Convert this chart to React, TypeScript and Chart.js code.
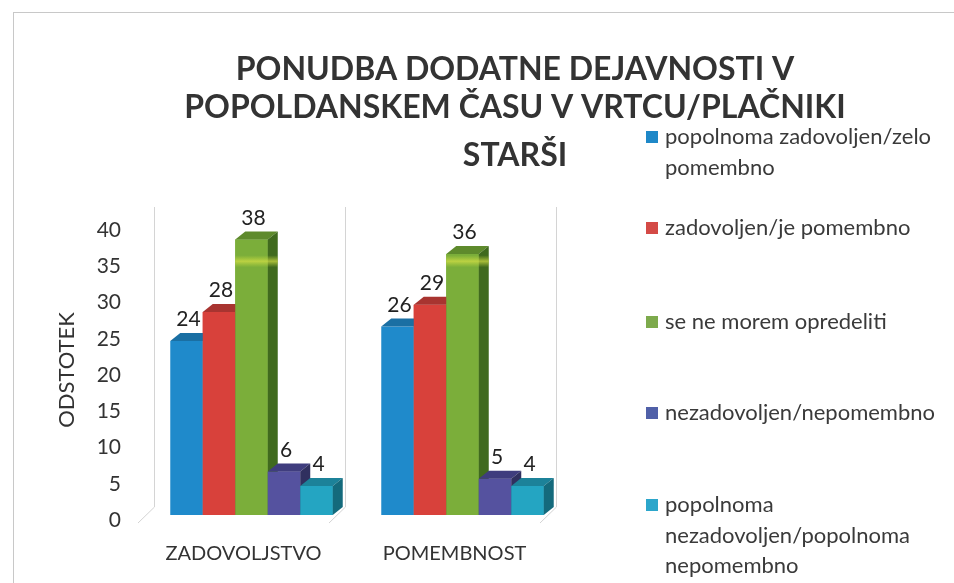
import React, { useEffect, useRef } from "react";
import { Chart, registerables } from "chart.js";

Chart.register(...registerables);

const categories = ["ZADOVOLJSTVO", "POMEMBNOST"];
const seriesNames = [
  "popolnoma zadovoljen/zelo pomembno",
  "zadovoljen/je pomembno",
  "se ne morem opredeliti",
  "nezadovoljen/nepomembno",
  "popolnoma nezadovoljen/popolnoma nepomembno",
];
const legendLines = [
  ["popolnoma zadovoljen/zelo", "pomembno"],
  ["zadovoljen/je pomembno"],
  ["se ne morem opredeliti"],
  ["nezadovoljen/nepomembno"],
  ["popolnoma", "nezadovoljen/popolnoma", "nepomembno"],
];
const veryPositive = [24, 26];
const positive = [28, 29];
const undecided = [38, 36];
const negative = [6, 5];
const veryNegative = [4, 4];
const titleLines = [
  "PONUDBA DODATNE DEJAVNOSTI V",
  "POPOLDANSKEM ČASU V VRTCU/PLAČNIKI",
  "STARŠI",
];
const yTicks = [0, 5, 10, 15, 20, 25, 30, 35, 40];

const frontColors = ["#1F8ACB", "#D8413B", "#7BAE3A", "#55529F", "#24A5C2"];
const topColors = ["#1A6FA3", "#A83430", "#5E8A2C", "#3F3D7E", "#1C8299"];
const sideColors = ["#135B86", "#8A2824", "#406A1E", "#30305F", "#146A7C"];
const legendColors = ["#1E88C8", "#D44A46", "#7DAA4C", "#5060A8", "#2CA6CB"];

const FONT = "Lato, 'Open Sans', sans-serif";

const App: React.FC = () => {
  const canvasRef = useRef<HTMLCanvasElement | null>(null);

  useEffect(() => {
    const canvas = canvasRef.current;
    if (!canvas) return;
    const values = [veryPositive, positive, undecided, negative, veryNegative];
    const DX = 10;
    const DY = 8;

    const decor = {
      id: "decor",
      beforeDraw(chart: any) {
        const ctx = chart.ctx;
        const { top, bottom } = chart.chartArea;
        ctx.save();
        ctx.fillStyle = "#ffffff";
        ctx.fillRect(0, 0, chart.width, chart.height);
        ctx.strokeStyle = "#c8c8c8";
        ctx.lineWidth = 1;
        ctx.strokeRect(13.5, 12.5, chart.width + 20, chart.height + 20);
        const xs = chart.scales.x;
        ctx.strokeStyle = "#d4d4d4";
        const bounds = [
          xs.getPixelForValue(-0.5) + 8,
          xs.getPixelForValue(0.5) - 12,
          xs.getPixelForValue(1.5) - 12,
        ];
        bounds.forEach((bx: number) => {
          ctx.beginPath();
          ctx.moveTo(bx + 0.5, top - 18);
          ctx.lineTo(bx + 0.5, bottom - 8);
          ctx.lineTo(bx - 16, bottom + 8);
          ctx.stroke();
        });
        ctx.restore();
      },
      afterDatasetsDraw(chart: any) {
        const ctx = chart.ctx;
        const n = chart.data.datasets.length;
        ctx.save();
        for (let di = 0; di < n; di++) {
          const meta = chart.getDatasetMeta(di);
          meta.data.forEach((bar: any) => {
            const x0 = bar.x - bar.width / 2;
            const x1 = bar.x + bar.width / 2;
            const y0 = bar.y;
            const yb = bar.base;
            ctx.fillStyle = topColors[di];
            ctx.beginPath();
            ctx.moveTo(x0, y0);
            ctx.lineTo(x0 + DX, y0 - DY);
            ctx.lineTo(x1 + DX, y0 - DY);
            ctx.lineTo(x1, y0);
            ctx.closePath();
            ctx.fill();
            ctx.fillStyle = sideColors[di];
            ctx.beginPath();
            ctx.moveTo(x1, y0);
            ctx.lineTo(x1 + DX, y0 - DY);
            ctx.lineTo(x1 + DX, yb - DY);
            ctx.lineTo(x1, yb);
            ctx.closePath();
            ctx.fill();
          });
          if (di < n - 1) {
            const next = chart.getDatasetMeta(di + 1);
            next.data.forEach((nb: any) => {
              ctx.fillStyle = frontColors[di + 1];
              ctx.fillRect(nb.x - nb.width / 2, nb.y, nb.width, nb.base - nb.y);
            });
          }
        }
        const gMeta = chart.getDatasetMeta(2);
        const ys = chart.scales.y;
        gMeta.data.forEach((bar: any) => {
          const yy = ys.getPixelForValue(35);
          const g = ctx.createLinearGradient(0, yy - 6, 0, yy + 6);
          g.addColorStop(0, "rgba(200,220,60,0)");
          g.addColorStop(0.5, "rgba(215,225,70,0.7)");
          g.addColorStop(1, "rgba(200,220,60,0)");
          ctx.fillStyle = g;
          ctx.fillRect(bar.x - bar.width / 2, yy - 6, bar.width + DX, 12);
        });
        ctx.fillStyle = "#222222";
        ctx.font = `21px ${FONT}`;
        ctx.textAlign = "center";
        ctx.textBaseline = "alphabetic";
        chart.data.datasets.forEach((ds: any, di: number) => {
          const meta = chart.getDatasetMeta(di);
          meta.data.forEach((bar: any, i: number) => {
            ctx.fillText(String(ds.data[i]), bar.x + 2, bar.y - 15);
          });
        });
        ctx.restore();
      },
      afterDraw(chart: any) {
        const ctx = chart.ctx;
        ctx.save();
        ctx.fillStyle = "#333333";
        ctx.font = `bold 32px ${FONT}`;
        ctx.textAlign = "center";
        ctx.textBaseline = "middle";
        const tys = [70, 108, 156];
        titleLines.forEach((t, i) => ctx.fillText(t, 515, tys[i]));
        ctx.font = `22px ${FONT}`;
        ctx.textAlign = "left";
        ctx.textBaseline = "middle";
        const ly = [137, 228, 322, 413, 505];
        legendLines.forEach((lines, i) => {
          ctx.fillStyle = legendColors[i];
          ctx.fillRect(646, ly[i] - 6, 12, 12);
          ctx.fillStyle = "#3a3a3a";
          lines.forEach((ln, j) => ctx.fillText(ln, 665, ly[i] + j * 30.5));
        });
        ctx.restore();
      },
    };

    const chart = new Chart(canvas, {
      type: "bar",
      data: {
        labels: categories,
        datasets: seriesNames.map((name, i) => ({
          label: name,
          data: values[i],
          backgroundColor: frontColors[i],
          borderWidth: 0,
          barPercentage: 1,
          categoryPercentage: 0.77,
        })),
      },
      options: {
        responsive: false,
        animation: false,
        events: [],
        layout: { padding: { left: 40, top: 225, right: 386, bottom: 0 } },
        plugins: {
          legend: { display: false },
          title: { display: false },
          tooltip: { enabled: false },
        },
        scales: {
          x: {
            grid: { display: false, drawTicks: false },
            border: { display: false },
            ticks: {
              color: "#333333",
              font: { family: FONT, size: 20 },
              padding: 27,
              labelOffset: -8,
            },
            afterFit(scale: any) {
              scale.height = 583 - 515;
            },
          },
          y: {
            min: 0,
            max: 40,
            grid: { display: false, drawTicks: false },
            border: { display: false },
            afterBuildTicks(scale: any) {
              scale.ticks = yTicks.map((v) => ({ value: v }));
            },
            ticks: {
              color: "#333333",
              font: { family: FONT, size: 21 },
              padding: 25,
              labelOffset: 5,
            },
            title: {
              display: true,
              text: "ODSTOTEK",
              color: "#333333",
              font: { family: FONT, size: 22 },
              padding: { top: 14, bottom: 0 },
            },
            afterFit(scale: any) {
              scale.width = 106;
            },
          },
        },
      },
      plugins: [decor],
    });
    return () => chart.destroy();
  }, []);

  return (
    <div style={{ position: "fixed", left: 0, top: 0, width: 954, height: 583 }}>
      <canvas ref={canvasRef} width={954} height={583} style={{ display: "block" }} />
    </div>
  );
};

export default App;
